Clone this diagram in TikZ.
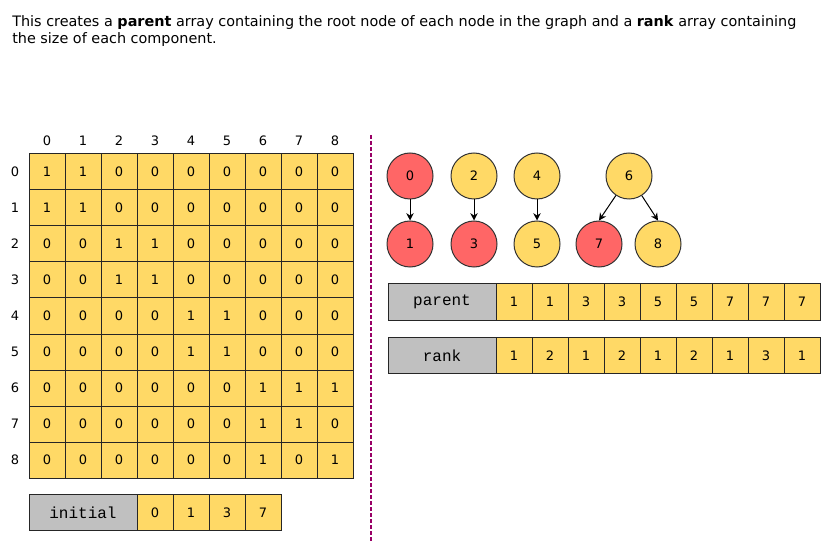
\documentclass[tikz,border=0pt]{standalone}
\usepackage{fontspec}
\setmainfont{DejaVu Sans}
\setmonofont{Liberation Mono}
\usetikzlibrary{arrows.meta,positioning}
\definecolor{cellyellow}{HTML}{FFD966}
\definecolor{rootred}{HTML}{FF6666}
\definecolor{labelgray}{HTML}{C0C0C0}
\definecolor{splitline}{HTML}{990066}
\tikzset{
  cell/.style={draw=black!85, line width=0.75pt, fill=cellyellow, minimum width=27pt, minimum height=27pt, inner sep=0pt, outer sep=0pt, font=\fontsize{9.75}{11}\selectfont},
  namebox/.style={cell, fill=labelgray, minimum width=81pt, font=\ttfamily\fontsize{12}{13}\selectfont},
  vertex/.style={circle, draw=black!80, line width=0.75pt, fill=cellyellow, minimum size=34.5pt, inner sep=0pt, font=\fontsize{9.75}{11}\selectfont},
  root/.style={vertex, fill=rootred},
  link/.style={-{Stealth[length=5.5pt,width=5.5pt]}, line width=0.75pt},
  index/.style={font=\fontsize{9.75}{11}\selectfont}
}
\begin{document}
\begin{tikzpicture}[x=0.75pt,y=-0.75pt]
  \useasboundingbox (0,0) rectangle (827,541);

  % Caption above the picture
  \node [anchor=north west, align=left, inner sep=0pt, font=\fontsize{10.8}{12.75}\selectfont] (intro) at (12,15)
    {This creates a \textbf{parent} array containing the root node of each node in the graph and a \textbf{rank} array containing\\the size of each component.};

  % Adjacency matrix with its row and column indices
  \foreach \rowvals [count=\r from 0] in {
      {1,1,0,0,0,0,0,0,0},
      {1,1,0,0,0,0,0,0,0},
      {0,0,1,1,0,0,0,0,0},
      {0,0,1,1,0,0,0,0,0},
      {0,0,0,0,1,1,0,0,0},
      {0,0,0,0,1,1,0,0,0},
      {0,0,0,0,0,0,1,1,1},
      {0,0,0,0,0,0,1,1,0},
      {0,0,0,0,0,0,1,0,1}} {
    \node [index] (row-\r) at (15,{172+36*\r}) {\r};
    \node [index] (col-\r) at ({47+36*\r},141) {\r};
    \foreach \v [count=\c from 0] in \rowvals
      \node [cell] (m-\r-\c) at ({47+36*\c},{172+36*\r}) {\v};
  }

  % Array of initial nodes
  \node [namebox] (initial) at (83,512.5) {initial};
  \node [cell, right=0pt of initial] (init-0) {0};
  \node [cell, right=0pt of init-0] (init-1) {1};
  \node [cell, right=0pt of init-1] (init-2) {3};
  \node [cell, right=0pt of init-2] (init-3) {7};

  % Dashed separator
  \coordinate (cut-top) at (371,135);
  \coordinate (cut-bot) at (371,541);
  \draw [draw=splitline, line width=0.9pt, dash pattern=on 3pt off 1.5pt] (cut-top) -- (cut-bot);

  % Components of the graph
  \node [root] (v0) at (410,176) {0};
  \node [vertex] (v2) at (474,176) {2};
  \node [vertex] (v4) at (537,176) {4};
  \node [vertex] (v6) at (629,176) {6};
  \node [root] (v1) at (410,244) {1};
  \node [root] (v3) at (474,244) {3};
  \node [vertex] (v5) at (537,244) {5};
  \node [root] (v7) at (599,244) {7};
  \node [vertex] (v8) at (658,244) {8};
  \draw [link] (v0) -- (v1);
  \draw [link] (v2) -- (v3);
  \draw [link] (v4) -- (v5);
  \draw [link] (v6) -- (v7.north);
  \draw [link] (v6) -- (v8.north);

  % parent array
  \node [namebox] (parent) at (442,302) {parent};
  \foreach \v [count=\k from 0, remember=\k as \prev (initially parent)] in {1,1,3,3,5,5,7,7,7} {
    \ifnum\k=0
      \node [cell, right=0pt of parent] (par-\k) {\v};
    \else
      \node [cell, right=0pt of par-\prev] (par-\k) {\v};
    \fi
  }

  % rank array
  \node [namebox] (rank) at (442,355.5) {rank};
  \foreach \v [count=\k from 0, remember=\k as \prev (initially rank)] in {1,2,1,2,1,2,1,3,1} {
    \ifnum\k=0
      \node [cell, right=0pt of rank] (rnk-\k) {\v};
    \else
      \node [cell, right=0pt of rnk-\prev] (rnk-\k) {\v};
    \fi
  }
\end{tikzpicture}
\end{document}
